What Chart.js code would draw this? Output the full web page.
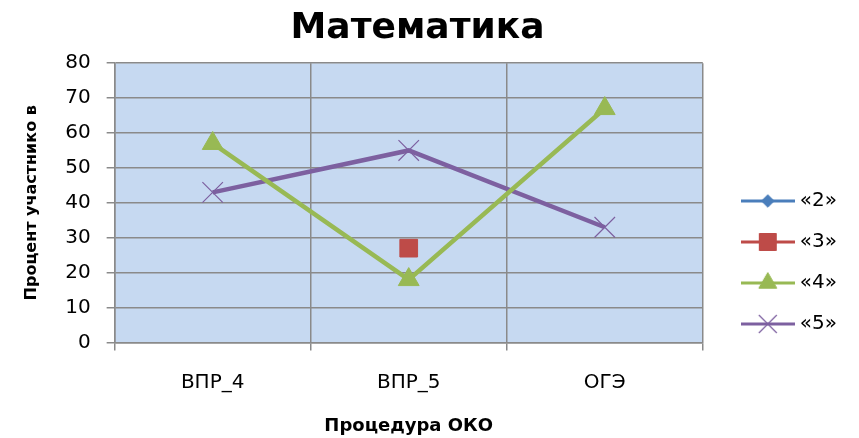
<!DOCTYPE html>
<html lang="ru">

<head>
    <meta charset="UTF-8">
    <title>Математика</title>
    <script src="https://cdn.jsdelivr.net/npm/chart.js"></script>
    <style>
        body { margin: 0; background: #fff; }
    </style>
</head>

<body>

    <div style="width: 859px; height: 438px;">
        <canvas id="myChart" width="859" height="438"></canvas>
    </div>

    <script>
        // данные с диаграммы
        const categories = ['ВПР_4', 'ВПР_5', 'ОГЭ'];
        const seriesNames = ['«2»', '«3»', '«4»', '«5»'];
        const grade2 = [null, null, null];
        const grade3 = [null, 27, null];
        const grade4 = [57, 18, 67];
        const grade5 = [43, 55, 33];
        const yMin = 0, yMax = 80, yStep = 10;

        const colors = ['#4a7ebb', '#be4b48', '#98b954', '#7d60a0'];
        const fontName = "'DejaVu Sans', Verdana, sans-serif";

        // иконка для легенды: линия + маркер посередине
        function makeLegendIcon(color, style, radius, bw) {
            const c = document.createElement('canvas');
            c.width = 54;
            c.height = 28;
            const ctx = c.getContext('2d');
            ctx.strokeStyle = color;
            ctx.fillStyle = color;
            ctx.lineWidth = 3;
            ctx.beginPath();
            ctx.moveTo(0, 14);
            ctx.lineTo(54, 14);
            ctx.stroke();
            ctx.lineWidth = bw;
            Chart.helpers.drawPoint(ctx, { pointStyle: style, radius: radius, rotation: 0, borderWidth: bw }, 27, 14);
            return c;
        }

        const legendIcons = [
            makeLegendIcon(colors[0], 'rectRot', 6.3, 1),
            makeLegendIcon(colors[1], 'rect', 12, 1),
            makeLegendIcon(colors[2], 'triangle', 10.4, 1),
            makeLegendIcon(colors[3], 'crossRot', 12.7, 1.2)
        ];

        // фон области построения
        const plotBackground = {
            id: 'plotBackground',
            beforeDraw(chart) {
                const { ctx, chartArea } = chart;
                ctx.save();
                ctx.fillStyle = '#c6d9f1';
                ctx.fillRect(chartArea.left, chartArea.top, chartArea.right - chartArea.left, chartArea.bottom - chartArea.top);
                ctx.restore();
            }
        };

        // сдвиг легенды вправо-вниз, как в Excel
        const legendShift = {
            id: 'legendShift',
            afterLayout(chart) {
                const lg = chart.legend;
                lg.left += 22;
                lg.right += 22;
                lg.top += 40.5;
                lg.bottom += 40.5;
            }
        };

        function drawChart(tag) {
            const ctx = document.getElementById(tag);

            const data = {
                labels: categories,
                datasets: [
                    {
                        label: seriesNames[0],
                        data: grade2,
                        borderColor: colors[0],
                        backgroundColor: colors[0],
                        borderWidth: 3,
                        pointStyle: 'rectRot',
                        pointRadius: 7
                    },
                    {
                        label: seriesNames[1],
                        data: grade3,
                        borderColor: colors[1],
                        backgroundColor: colors[1],
                        borderWidth: 3,
                        pointStyle: 'rect',
                        pointRadius: 12.5,
                        pointBorderWidth: 1
                    },
                    {
                        label: seriesNames[2],
                        data: grade4,
                        borderColor: colors[2],
                        backgroundColor: colors[2],
                        borderWidth: 4.5,
                        pointStyle: 'triangle',
                        pointRadius: 12,
                        pointBorderWidth: 1
                    },
                    {
                        label: seriesNames[3],
                        data: grade5,
                        borderColor: colors[3],
                        backgroundColor: colors[3],
                        borderWidth: 4.5,
                        pointStyle: 'crossRot',
                        pointRadius: 14.5,
                        pointBorderWidth: 1.2
                    }
                ]
            };

            const options = {
                responsive: false,
                animation: false,
                layout: {
                    padding: { top: 7, left: 10, right: 34, bottom: 1 }
                },
                plugins: {
                    title: {
                        display: true,
                        text: 'Математика',
                        color: '#000',
                        font: { family: fontName, size: 36, weight: 'bold' },
                        padding: { top: 0, bottom: 13 }
                    },
                    legend: {
                        position: 'right',
                        labels: {
                            usePointStyle: true,
                            pointStyleWidth: 44,
                            padding: 21,
                            color: '#000',
                            font: { family: fontName, size: 20 },
                            generateLabels: (chart) => chart.data.datasets.map((ds, i) => ({
                                text: ds.label,
                                fillStyle: ds.backgroundColor,
                                strokeStyle: ds.borderColor,
                                pointStyle: legendIcons[i],
                                lineWidth: 0,
                                hidden: false,
                                datasetIndex: i
                            }))
                        }
                    },
                    tooltip: { enabled: false }
                },
                scales: {
                    x: {
                        offset: true,
                        grid: {
                            offset: true,
                            color: '#8a8a8a',
                            lineWidth: 1.5,
                            tickLength: 8
                        },
                        border: { color: '#8a8a8a', width: 1.5 },
                        ticks: {
                            color: '#000',
                            padding: 20,
                            font: { family: fontName, size: 20 }
                        },
                        title: {
                            display: true,
                            text: 'Процедура ОКО',
                            color: '#000',
                            font: { family: fontName, size: 18, weight: 'bold' },
                            padding: { top: 1, bottom: 0 }
                        }
                    },
                    y: {
                        min: yMin,
                        max: yMax,
                        grid: {
                            color: '#8a8a8a',
                            lineWidth: 1.5,
                            tickLength: 8
                        },
                        border: { color: '#8a8a8a', width: 1.5 },
                        ticks: {
                            stepSize: yStep,
                            color: '#000',
                            padding: 16,
                            font: { family: fontName, size: 20 }
                        },
                        title: {
                            display: true,
                            text: 'Процент участнико в',
                            color: '#000',
                            font: { family: fontName, size: 16, weight: 'bold' },
                            padding: { top: 12, bottom: 8 }
                        }
                    }
                }
            };

            new Chart(ctx, {
                type: 'line',
                data: data,
                options: options,
                plugins: [plotBackground, legendShift]
            });
        }

        drawChart('myChart');
    </script>
</body>

</html>
